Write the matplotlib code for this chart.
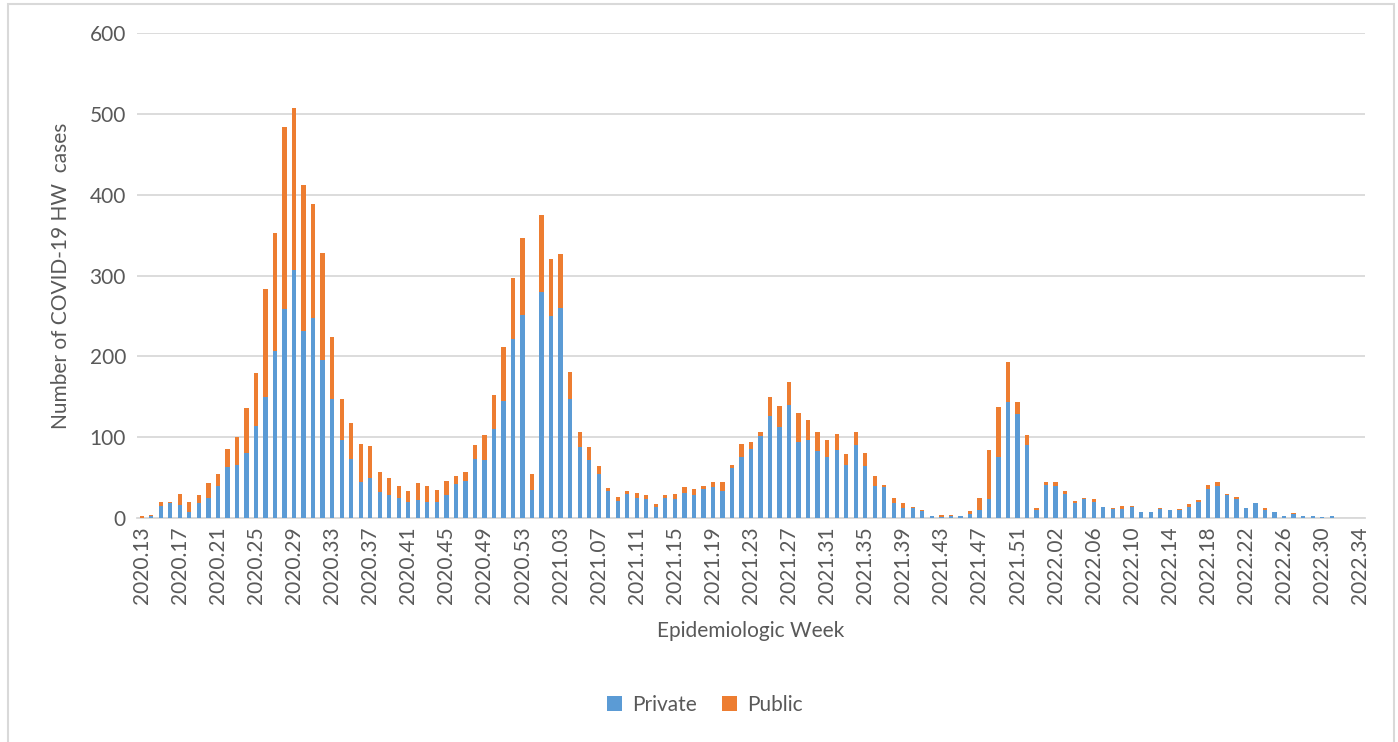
import numpy as np
import matplotlib
matplotlib.use("Agg")
import matplotlib.pyplot as plt
from matplotlib.patches import Rectangle

plt.rcParams["font.family"] = ["Lato", "DejaVu Sans"]

# epidemiologic weeks (two short boundary weeks at the year changes)
weeks = ([f"2020.{w:02d}" for w in range(13, 54)] + ["2021.00"] +
         [f"2021.{w:02d}" for w in range(1, 53)] + ["2022.00"] +
         [f"2022.{w:02d}" for w in range(1, 35)])

private = [0, 2, 15, 18, 16, 8, 18, 25, 39, 63,
           65, 80, 114, 150, 206, 258, 307, 231, 247, 196,
           147, 97, 73, 45, 50, 32, 28, 25, 20, 22,
           20, 20, 28, 42, 46, 73, 72, 110, 145, 222,
           251, 35, 280, 250, 260, 147, 88, 72, 54, 34,
           21, 30, 25, 24, 13, 25, 24, 31, 29, 36,
           38, 34, 62, 76, 85, 102, 126, 112, 140, 94,
           97, 83, 75, 84, 66, 90, 64, 40, 38, 19,
           12, 12, 9, 2, 1, 2, 3, 5, 10, 23,
           75, 144, 129, 90, 10, 41, 40, 30, 18, 23,
           20, 13, 11, 11, 13, 8, 7, 11, 10, 10,
           14, 20, 36, 40, 29, 24, 12, 18, 10, 7,
           2, 5, 3, 2, 1, 3, 0, 0, 0]

public = [2, 2, 5, 2, 14, 12, 10, 18, 16, 22,
          35, 56, 65, 133, 147, 226, 200, 181, 142, 132,
          77, 50, 45, 46, 39, 25, 22, 15, 13, 21,
          19, 15, 18, 10, 11, 17, 31, 42, 66, 75,
          96, 19, 95, 70, 67, 33, 19, 16, 10, 3,
          5, 4, 6, 5, 4, 3, 6, 7, 7, 3,
          6, 10, 3, 15, 9, 5, 24, 27, 28, 36,
          24, 24, 22, 20, 13, 17, 16, 12, 3, 6,
          7, 1, 1, 0, 3, 2, 0, 4, 15, 61,
          62, 49, 15, 13, 2, 3, 4, 3, 3, 2,
          3, 1, 1, 4, 2, 0, 1, 1, 0, 1,
          3, 2, 5, 5, 1, 2, 0, 0, 2, 0,
          0, 1, 0, 0, 0, 0, 0, 0, 0]

blue = "#5B9BD5"
orange = "#ED7D31"
grey_txt = "#595959"

fig = plt.figure(figsize=(13.98, 7.42), dpi=100)
ax = fig.add_axes([137 / 1398, 1 - 518 / 742, 1228 / 1398, 485 / 742])

x = np.arange(len(weeks))
ax.bar(x, private, width=0.45, color=blue, label="Private", zorder=3)
ax.bar(x, public, width=0.45, bottom=private, color=orange, label="Public", zorder=3)

ax.set_xlim(-0.5, len(weeks) - 0.5)
ax.set_ylim(0, 600)
ax.set_yticks(range(0, 601, 100))
ax.yaxis.grid(True, color="#D9D9D9", lw=1.3, zorder=0)
ax.set_xticks(x[::4])
ax.set_xticklabels(weeks[::4], rotation=90)
ax.tick_params(axis="both", length=0, labelsize=15, colors=grey_txt, pad=8)
ax.tick_params(axis="x", pad=6)
for s in ["top", "right", "left"]:
    ax.spines[s].set_visible(False)
ax.spines["bottom"].set_color("#D9D9D9")
ax.spines["bottom"].set_linewidth(1.3)

ax.set_ylabel("Number of COVID-19 HW  cases", fontsize=15, color=grey_txt, labelpad=13)
ax.set_xlabel("Epidemiologic Week", fontsize=15, color=grey_txt, labelpad=12)

fig.legend(loc="center", bbox_to_anchor=(705 / 1398, 1 - 705 / 742), ncol=2,
           frameon=False, fontsize=15, handlelength=0.7, handleheight=0.7,
           columnspacing=1.2, handletextpad=0.5, labelcolor=grey_txt)

fig.patches.append(Rectangle((7.5 / 1398, -0.01), 1386 / 1398, 1 - 4 / 742 + 0.01,
                             transform=fig.transFigure, fill=False,
                             edgecolor="#D9D9D9", lw=1.5))

fig.savefig("out.png", dpi=100)
